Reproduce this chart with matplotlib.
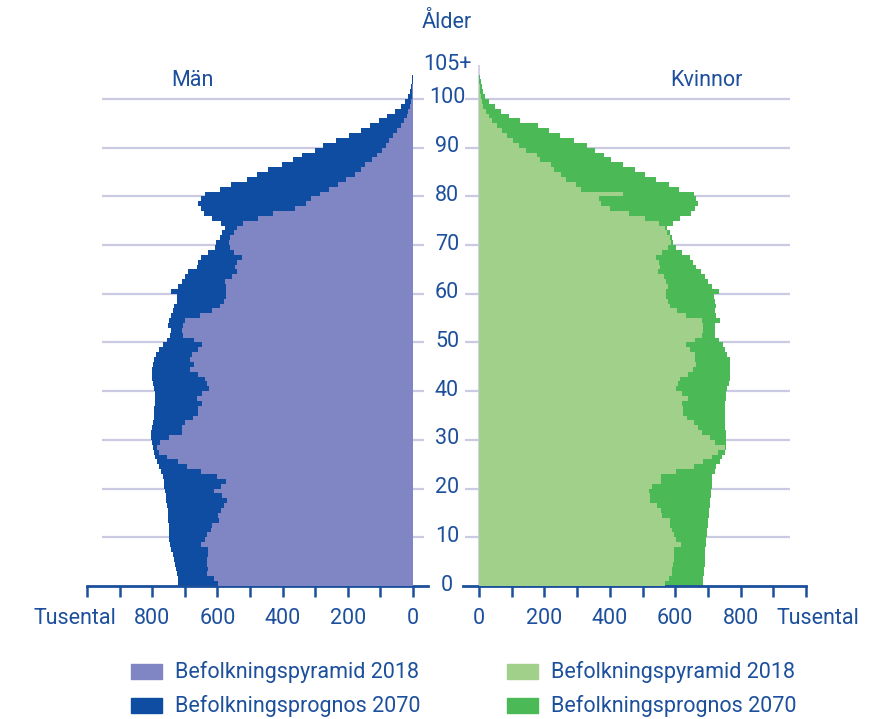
import numpy as np
import matplotlib
matplotlib.use("Agg")
import matplotlib.pyplot as plt
from matplotlib.patches import Rectangle
from matplotlib.transforms import blended_transform_factory

plt.rcParams['font.family'] = ['Roboto', 'DejaVu Sans']

# Ages 0..105 (105 = 105+)
ages = np.arange(106)

men_2018 = [598, 611, 631, 629, 631, 631, 629, 629, 651, 637,
            631, 619, 616, 595, 598, 588, 580, 570, 586, 609,
            588, 573, 600, 649, 692, 722, 756, 778, 785, 775,
            748, 710, 710, 698, 674, 659, 659, 647, 664, 647,
            626, 631, 637, 659, 683, 672, 683, 678, 659, 647,
            672, 705, 708, 705, 698, 652, 616, 591, 580, 573,
            573, 573, 576, 555, 540, 546, 540, 525, 548, 560,
            563, 560, 550, 540, 520, 476, 428, 363, 329, 314,
            285, 258, 231, 205, 177, 160, 146, 126, 111, 96,
            84, 75, 62, 50, 37, 29, 19, 14, 9, 6,
            4, 3, 2, 1, 1, 1]

men_2070 = [722, 722, 725, 728, 731, 734, 737, 741, 744, 747,
            747, 750, 750, 753, 753, 753, 756, 759, 759, 761,
            764, 764, 768, 774, 779, 786, 792, 795, 799, 802,
            805, 805, 802, 799, 795, 795, 795, 792, 792, 792,
            795, 799, 802, 802, 802, 799, 795, 789, 780, 768,
            756, 744, 741, 753, 747, 741, 737, 734, 725, 725,
            741, 722, 710, 698, 689, 664, 661, 649, 628, 608,
            603, 593, 585, 578, 588, 616, 641, 651, 661, 651,
            637, 591, 558, 509, 479, 445, 403, 367, 339, 302,
            277, 237, 195, 161, 131, 103, 80, 55, 37, 24,
            14, 9, 6, 3, 2, 1]

women_2018 = [568, 581, 589, 591, 593, 596, 596, 597, 619, 602,
              596, 590, 585, 583, 561, 556, 543, 524, 522, 519,
              529, 558, 558, 602, 658, 685, 713, 730, 751, 721,
              705, 683, 671, 657, 635, 623, 623, 620, 638, 620,
              602, 608, 614, 638, 655, 663, 660, 660, 644, 632,
              660, 681, 685, 685, 683, 632, 605, 583, 577, 573,
              571, 577, 571, 565, 548, 553, 550, 541, 559, 578,
              588, 583, 575, 568, 550, 509, 458, 400, 372, 366,
              441, 313, 296, 266, 250, 230, 220, 186, 176, 144,
              123, 105, 85, 69, 54, 41, 31, 20, 13, 8,
              5, 3, 2, 1, 1, 1]

women_2070 = [685, 685, 688, 688, 690, 690, 692, 692, 695, 695,
              697, 697, 700, 700, 703, 703, 705, 705, 708, 708,
              711, 711, 714, 721, 726, 736, 743, 751, 756, 756,
              756, 754, 753, 751, 751, 751, 751, 753, 756, 756,
              759, 763, 767, 769, 769, 769, 767, 759, 753, 746,
              734, 723, 721, 722, 738, 726, 721, 724, 721, 718,
              733, 711, 700, 690, 680, 663, 653, 644, 622, 601,
              593, 590, 583, 576, 592, 614, 647, 660, 669, 663,
              656, 611, 580, 540, 509, 476, 439, 405, 382, 354,
              329, 290, 247, 214, 179, 125, 92, 67, 49, 31,
              18, 13, 8, 5, 3, 1]

age_labels = ['0', '10', '20', '30', '40', '50', '60', '70', '80', '90', '100']
x_ticks = np.arange(0, 1001, 100)
x_ticklabels = ['0', '', '200', '', '400', '', '600', '', '800', '', '']

blue = '#1c4f9c'
grid_col = '#cacae3'
c_m18, c_m70 = '#7f86c3', '#0e4da2'
c_w18, c_w70 = '#a0d08a', '#4ab956'
fs = 15.5

W, H = 895, 719
fig = plt.figure(figsize=(W / 100, H / 100), dpi=100)

y_bottom = (H - 586) / H
y_height = 526 / H
axL = fig.add_axes([87 / W, y_bottom, 341 / W, y_height])
axR = fig.add_axes([463 / W, y_bottom, 343 / W, y_height])

edges = np.arange(107)
axL.stairs(men_2070, edges, orientation='horizontal', fill=True, color=c_m70, zorder=2)
axL.stairs(men_2018, edges, orientation='horizontal', fill=True, color=c_m18, zorder=3)
axR.stairs(women_2070, edges, orientation='horizontal', fill=True, color=c_w70, zorder=2)
axR.stairs(women_2018, edges, orientation='horizontal', fill=True, color=c_w18, zorder=3)

grid_ages = np.arange(10, 101, 10)
axL.hlines(grid_ages, 954, -33, color=grid_col, lw=1.6, zorder=1)
axR.hlines(grid_ages, -43, 950, color=grid_col, lw=1.6, zorder=1)
axR.vlines(0, 0, 107, color=grid_col, lw=1.2, zorder=1)

axL.set_xlim(1000, -46)
axR.set_xlim(-49, 1000)
for ax in (axL, axR):
    ax.set_ylim(0, 108)
    for s in ('top', 'left', 'right'):
        ax.spines[s].set_visible(False)
    ax.spines['bottom'].set_color(blue)
    ax.spines['bottom'].set_linewidth(2)
    ax.set_yticks([])
    ax.set_xticks(x_ticks)
    ax.set_xticklabels(x_ticklabels)
    ax.tick_params(axis='x', direction='out', length=8, width=1.8, color=blue,
                   labelcolor=blue, labelsize=fs, pad=8)
    ax.set_facecolor('none')

# age labels in the middle
tr = blended_transform_factory(fig.transFigure, axL.transData)
for i, lab in enumerate(age_labels):
    fig.text(447 / W, i * 10 + 0.2, lab, transform=tr, ha='center', va='center',
             color=blue, fontsize=fs)
fig.text(447 / W, 107.0, '105+', transform=tr, ha='center', va='center',
         color=blue, fontsize=fs)
fig.text(447 / W, 1 - 22 / H, 'Ålder', ha='center', va='center', color=blue, fontsize=fs)

fig.text(192 / W, 1 - 81 / H, 'Män', ha='center', va='center', color=blue, fontsize=fs)
fig.text(706 / W, 1 - 81 / H, 'Kvinnor', ha='center', va='center', color=blue, fontsize=fs)

fig.text(75 / W, 1 - 618 / H, 'Tusental', ha='center', va='center', color=blue, fontsize=fs)
fig.text(818 / W, 1 - 618 / H, 'Tusental', ha='center', va='center', color=blue, fontsize=fs)

# legend
legend_items = [
    (131, 672, c_m18, 'Befolkningspyramid 2018'),
    (131, 706, c_m70, 'Befolkningsprognos 2070'),
    (507, 672, c_w18, 'Befolkningspyramid 2018'),
    (507, 706, c_w70, 'Befolkningsprognos 2070'),
]
for x, y, col, lab in legend_items:
    fig.patches.append(Rectangle((x / W, 1 - (y + 7) / H), 31 / W, 15 / H,
                                 transform=fig.transFigure, color=col))
    fig.text((x + 44) / W, 1 - y / H, lab, ha='left', va='center', color=blue, fontsize=fs)

fig.savefig('out.png', dpi=100)
